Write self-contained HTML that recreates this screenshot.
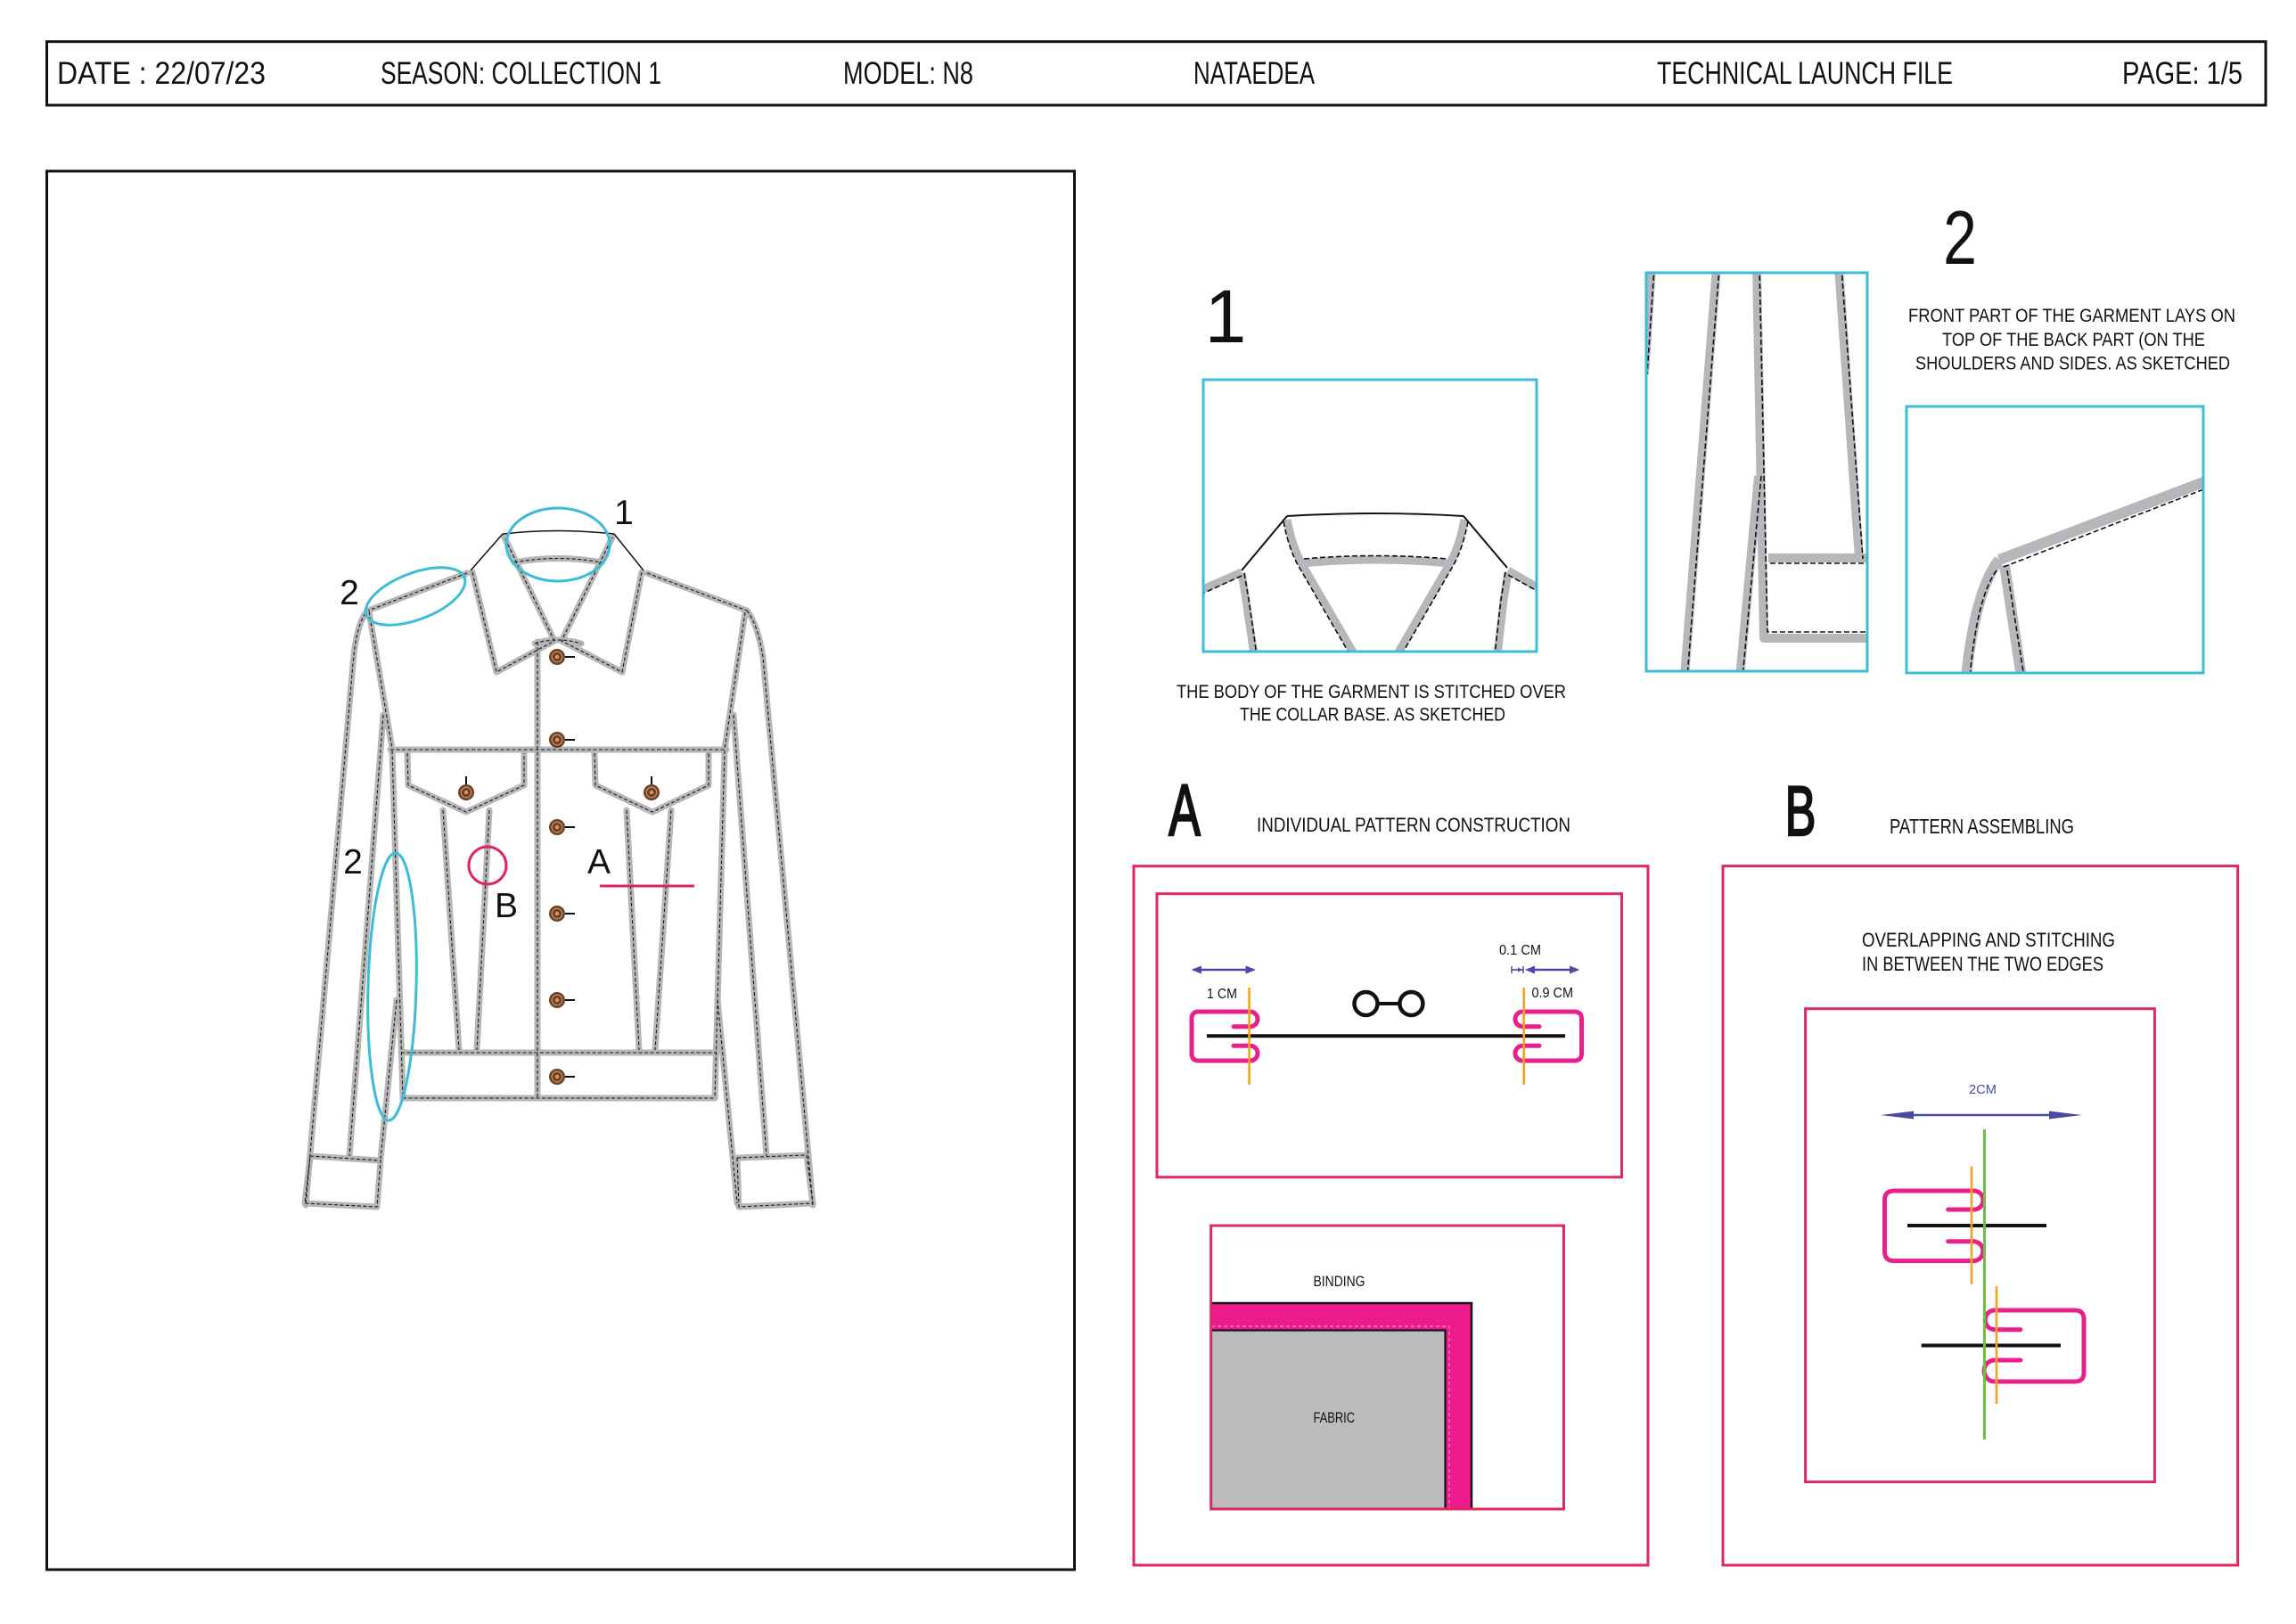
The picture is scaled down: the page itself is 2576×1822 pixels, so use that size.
<!DOCTYPE html>
<html><head><meta charset="utf-8"><style>
html,body{margin:0;padding:0;background:#fff;}
svg{display:block;}
text{font-family:"Liberation Sans",sans-serif;fill:#111;}
.g{fill:none;stroke:#b6b6b6;stroke-width:7;stroke-linecap:round;stroke-linejoin:round;}
.d{fill:none;stroke:#1a1a1a;stroke-width:1.1;stroke-dasharray:4 2.5;}
.gd{fill:none;stroke:#b5b7ba;stroke-width:10;stroke-linejoin:round;}
.dd{fill:none;stroke:#111;stroke-width:1.6;stroke-dasharray:6 3;}
.k{fill:none;stroke:#111;stroke-width:1.6;}
.cy{fill:none;stroke:#3dbcd6;stroke-width:3;}
.pk{fill:none;stroke:#e0285e;stroke-width:3;}
.mg{fill:none;stroke:#e9208c;stroke-width:5;stroke-linejoin:round;stroke-linecap:round;}
.or{stroke:#f5a31f;stroke-width:2.6;}
.bl{stroke:#4a4aa3;stroke-width:2.6;}
.blf{fill:#4a4aa3;}
</style></head><body>
<svg width="2576" height="1822" viewBox="0 0 2576 1822" xmlns="http://www.w3.org/2000/svg">
<defs>
  <g id="jseams">
    <path d="M577,631 Q626,622 675,631"/>
    <path d="M530,642 L557,754 L622,719 L566,603"/>
    <path d="M720,642 L698,754 L630,719 L687,603"/>
    <path d="M600,722 Q626,714 652,722"/>
    <path d="M524,643 L413,685"/>
    <path d="M726,643 L838,685"/>
    <path d="M414,686 L440,840"/>
    <path d="M836,687 L813,840"/>
    <path d="M438,841 L815,841"/>
    <path d="M440,842 L452,1232"/>
    <path d="M813,842 L802,1232"/>
    <path d="M450,1181 L804,1181"/>
    <path d="M452,1232 L802,1232"/>
    <path d="M603,720 L603,1232"/>
    <path d="M410,688 C402,700 398,720 396,745 L343,1352"/>
    <path d="M430,802 L392,1297"/>
    <path d="M445,1122 L427,1300"/>
    <path d="M348,1297 L427,1302 L423,1354 L342,1350 Z"/>
    <path d="M838,685 C846,695 852,712 856,737 L912,1352"/>
    <path d="M823,802 L860,1297"/>
    <path d="M805,1122 L827,1350"/>
    <path d="M827,1299 L905,1296 L912,1350 L829,1354 Z"/>
    <path d="M457,845 L458,881 L523,911 L588,881 L588,845"/>
    <path d="M667,845 L668,881 L732,911 L795,881 L795,845"/>
    <path d="M497,909 L515,1178"/>
    <path d="M549,909 L535,1178"/>
    <path d="M703,909 L717,1178"/>
    <path d="M753,909 L735,1178"/>
  </g>
  <g id="btn">
    <circle cx="0" cy="0" r="9" fill="#6b4226"/>
    <circle cx="0" cy="0" r="5.8" fill="none" stroke="#c98a5c" stroke-width="1.3"/>
    <circle cx="0" cy="0" r="2.2" fill="#d59a6a"/>
  </g>
  <clipPath id="c1"><rect x="1351" y="427" width="372" height="303"/></clipPath>
  <clipPath id="c2"><rect x="1848" y="307" width="246" height="445"/></clipPath>
  <clipPath id="c3"><rect x="2140" y="457" width="331" height="297"/></clipPath>
</defs>

<!-- HEADER -->
<rect x="52.5" y="46.7" width="2489.5" height="71.3" fill="none" stroke="#111" stroke-width="3"/>
<g font-size="35" style="fill:#222">
  <text x="64" y="94" textLength="234" lengthAdjust="spacingAndGlyphs">DATE : 22/07/23</text>
  <text x="427" y="94" textLength="315" lengthAdjust="spacingAndGlyphs">SEASON: COLLECTION 1</text>
  <text x="946" y="94" textLength="146" lengthAdjust="spacingAndGlyphs">MODEL: N8</text>
  <text x="1339" y="94" textLength="136" lengthAdjust="spacingAndGlyphs">NATAEDEA</text>
  <text x="1859" y="94" textLength="332" lengthAdjust="spacingAndGlyphs">TECHNICAL LAUNCH FILE</text>
  <text x="2381" y="94" textLength="135" lengthAdjust="spacingAndGlyphs">PAGE: 1/5</text>
</g>

<!-- LEFT BOX -->
<rect x="52.5" y="192" width="1153" height="1569" fill="none" stroke="#111" stroke-width="3"/>

<!-- JACKET -->
<use href="#jseams" class="g"/>
<use href="#jseams" class="d"/>
<path d="M564,599 Q626,592 689,599 M564,599 L528,640 M689,599 L722,640" fill="none" stroke="#111" stroke-width="1.5"/>
<g>
  <use href="#btn" x="625" y="737"/>
  <use href="#btn" x="625" y="830"/>
  <use href="#btn" x="625" y="928"/>
  <use href="#btn" x="625" y="1025"/>
  <use href="#btn" x="625" y="1122"/>
  <use href="#btn" x="625" y="1208"/>
  <use href="#btn" x="523" y="889"/>
  <use href="#btn" x="731" y="889"/>
</g>
<g stroke="#111" stroke-width="2">
  <line x1="634" y1="737" x2="645" y2="737"/>
  <line x1="634" y1="830" x2="645" y2="830"/>
  <line x1="634" y1="928" x2="645" y2="928"/>
  <line x1="634" y1="1025" x2="645" y2="1025"/>
  <line x1="634" y1="1122" x2="645" y2="1122"/>
  <line x1="634" y1="1208" x2="645" y2="1208"/>
  <line x1="523" y1="880" x2="523" y2="871"/>
  <line x1="731" y1="880" x2="731" y2="871"/>
</g>
<ellipse cx="626" cy="611" rx="58" ry="41" class="cy"/>
<ellipse cx="466" cy="669" rx="59" ry="26" transform="rotate(-21 466 669)" class="cy"/>
<ellipse cx="440" cy="1107" rx="27" ry="150" transform="rotate(1.5 440 1107)" class="cy"/>
<circle cx="547" cy="971" r="21" fill="none" stroke="#e0245e" stroke-width="3"/>
<line x1="673" y1="994" x2="779" y2="994" stroke="#e0245e" stroke-width="3"/>
<g font-size="39" text-anchor="middle">
  <text x="700" y="588">1</text>
  <text x="392" y="678">2</text>
  <text x="396" y="980">2</text>
  <text x="568" y="1029">B</text>
  <text x="672" y="980">A</text>
</g>

<!-- DETAIL 1 -->
<text x="1375" y="384" font-size="84" text-anchor="middle">1</text>
<g clip-path="url(#c1)">
  <g class="gd" style="stroke-width:9">
    <path d="M1393,642 L1345,663"/>
    <path d="M1393,643 L1398,673 L1407,735"/>
    <path d="M1444,583 Q1450,615 1462,635 L1520,735"/>
    <path d="M1461,632 Q1543,624 1626,632"/>
    <path d="M1643,583 Q1637,615 1625,635 L1567,735"/>
    <path d="M1692,640 L1730,662"/>
    <path d="M1692,642 L1687,673 L1680,735"/>
  </g>
  <g class="dd">
    <path d="M1393,646 L1349,666"/>
    <path d="M1396,643 L1401,673 L1410,735"/>
    <path d="M1440,585 Q1446,617 1458,637 L1516,737"/>
    <path d="M1463,627 Q1543,620 1624,627"/>
    <path d="M1647,585 Q1641,617 1629,637 L1571,737"/>
    <path d="M1692,645 L1730,666"/>
    <path d="M1689,642 L1684,673 L1677,735"/>
  </g>
  <path d="M1444,579 Q1543,573 1642,579 M1444,579 L1393,640 M1642,579 L1691,637" class="k" style="stroke-width:2"/>
</g>
<rect x="1350" y="426" width="374" height="305" class="cy"/>
<g font-size="21">
  <text x="1320" y="783" textLength="437" lengthAdjust="spacingAndGlyphs">THE BODY OF THE GARMENT IS STITCHED OVER</text>
  <text x="1391" y="808.5" textLength="298" lengthAdjust="spacingAndGlyphs">THE COLLAR BASE. AS SKETCHED</text>
</g>

<!-- DETAIL 2 -->
<text x="0" y="0" font-size="85" text-anchor="middle" transform="translate(2199,296) scale(0.8,1)">2</text>
<g clip-path="url(#c2)">
  <g class="gd">
    <path d="M1853,300 L1845,420"/>
    <path d="M1926,300 L1890,760"/>
    <path d="M1971,300 L1979,716 L2100,716"/>
    <path d="M1984,626 L2100,626"/>
    <path d="M2063,300 L2086,627"/>
    <path d="M1973,534 L1952,760"/>
  </g>
  <g class="dd">
    <path d="M1856,300 L1848,420"/>
    <path d="M1929,300 L1893,760"/>
    <path d="M1974,300 L1983,709 L2100,709"/>
    <path d="M1986,632 L2100,632"/>
    <path d="M2066,300 L2090,627"/>
    <path d="M1976,534 L1955,760"/>
  </g>
</g>
<rect x="1847" y="306" width="248" height="447" class="cy"/>
<g clip-path="url(#c3)">
  <g class="gd" style="stroke-width:12">
    <path d="M2243,628 L2480,538"/>
    <path d="M2243,628 Q2216,662 2206,760"/>
    <path d="M2249,634 L2268,760"/>
  </g>
  <g class="dd">
    <path d="M2248,636 L2480,546"/>
    <path d="M2240,640 Q2218,670 2210,760"/>
    <path d="M2252,640 L2271,760"/>
  </g>
</g>
<rect x="2139" y="456" width="333" height="299" class="cy"/>
<g font-size="21">
  <text x="2141" y="361" textLength="367" lengthAdjust="spacingAndGlyphs">FRONT PART OF THE GARMENT LAYS ON</text>
  <text x="2179" y="388" textLength="295" lengthAdjust="spacingAndGlyphs">TOP OF THE BACK PART (ON THE</text>
  <text x="2149" y="414.6" textLength="353" lengthAdjust="spacingAndGlyphs">SHOULDERS AND SIDES. AS SKETCHED</text>
</g>

<!-- SECTION A -->
<text x="0" y="0" font-size="82" text-anchor="middle" transform="translate(1329,937) scale(0.65,1)" style="stroke:#111;stroke-width:2.5">A</text>
<text x="1410" y="933" font-size="22" textLength="352" lengthAdjust="spacingAndGlyphs">INDIVIDUAL PATTERN CONSTRUCTION</text>
<rect x="1272" y="971.7" width="577" height="784.3" class="pk"/>
<rect x="1298" y="1002.7" width="521.5" height="318" class="pk"/>
<!-- arrows -->
<line x1="1345" y1="1088" x2="1401" y2="1088" class="bl"/>
<path d="M1336.5,1088 L1348,1083.5 L1348,1092.5 Z M1409,1088 L1397.5,1083.5 L1397.5,1092.5 Z" class="blf"/>
<line x1="1696" y1="1088" x2="1709" y2="1088" class="bl" style="stroke-width:1.6"/>
<line x1="1696" y1="1084" x2="1696" y2="1092" class="bl" style="stroke-width:1.4"/>
<line x1="1709" y1="1084" x2="1709" y2="1092" class="bl" style="stroke-width:1.4"/>
<path d="M1708,1088 L1703,1085.5 L1703,1090.5 Z" class="blf"/>
<line x1="1720" y1="1088" x2="1764" y2="1088" class="bl"/>
<path d="M1711,1088 L1722,1083.5 L1722,1092.5 Z M1772.5,1088 L1761,1083.5 L1761,1092.5 Z" class="blf"/>
<g font-size="16" style="fill:#4a4aa3">
  <text x="1354" y="1120" textLength="34" lengthAdjust="spacingAndGlyphs">1 CM</text>
  <text x="1682" y="1071" textLength="47" lengthAdjust="spacingAndGlyphs">0.1 CM</text>
  <text x="1718.5" y="1119" textLength="46.5" lengthAdjust="spacingAndGlyphs">0.9 CM</text>
</g>
<path d="M1384,1151.7 L1402.7,1151.7 A8.35,8.35 0 0 0 1402.7,1135 L1345,1135 Q1337,1135 1337,1143 L1337,1182 Q1337,1190 1345,1190 L1402.7,1190 A8.35,8.35 0 0 0 1402.7,1173.3 L1384,1173.3" class="mg"/>
<path d="M1727,1151.7 L1708.3,1151.7 A8.35,8.35 0 0 1 1708.3,1135 L1766,1135 Q1774.5,1135 1774.5,1143 L1774.5,1182 Q1774.5,1190 1766,1190 L1708.3,1190 A8.35,8.35 0 0 1 1708.3,1173.3 L1727,1173.3" class="mg"/>
<line x1="1354" y1="1162.3" x2="1756" y2="1162.3" stroke="#111" stroke-width="4"/>
<line x1="1401.6" y1="1108" x2="1401.6" y2="1217" class="or"/>
<line x1="1709.7" y1="1108" x2="1709.7" y2="1217" class="or"/>
<circle cx="1532.5" cy="1126" r="13" fill="none" stroke="#111" stroke-width="4.5"/>
<circle cx="1583.4" cy="1126" r="13" fill="none" stroke="#111" stroke-width="4.5"/>
<line x1="1545" y1="1126" x2="1571" y2="1126" stroke="#111" stroke-width="4"/>
<!-- binding -->
<rect x="1359" y="1462" width="292" height="230" fill="#ec1a8c"/>
<rect x="1359" y="1492.5" width="262.5" height="199.5" fill="#bbbbbb"/>
<path d="M1359,1488 L1626,1488 L1626,1692" fill="none" stroke="#ff8fbf" stroke-width="1.2" stroke-dasharray="4 3"/>
<path d="M1359,1462 L1651,1462 L1651,1692" fill="none" stroke="#111" stroke-width="2.5"/>
<path d="M1359,1492.5 L1621.5,1492.5 L1621.5,1692" fill="none" stroke="#111" stroke-width="2.2"/>
<rect x="1358.7" y="1375" width="395.8" height="318" class="pk"/>
<g font-size="17" style="fill:#333">
  <text x="1473.5" y="1443" textLength="58" lengthAdjust="spacingAndGlyphs">BINDING</text>
  <text x="1473.5" y="1596" textLength="46.5" lengthAdjust="spacingAndGlyphs">FABRIC</text>
</g>

<!-- SECTION B -->
<text x="0" y="0" font-size="79" text-anchor="middle" transform="translate(2020,937) scale(0.66,1)" style="stroke:#111;stroke-width:2.5">B</text>
<text x="2120" y="935" font-size="23" textLength="207" lengthAdjust="spacingAndGlyphs">PATTERN ASSEMBLING</text>
<rect x="1933" y="971.6" width="577.7" height="784.4" class="pk"/>
<g font-size="22">
  <text x="2089" y="1062" textLength="284" lengthAdjust="spacingAndGlyphs">OVERLAPPING AND STITCHING</text>
  <text x="2089" y="1089" textLength="271" lengthAdjust="spacingAndGlyphs">IN BETWEEN THE TWO EDGES</text>
</g>
<rect x="2025.6" y="1131.7" width="391.8" height="530.9" class="pk"/>
<text x="2209" y="1227" font-size="15" textLength="31" lengthAdjust="spacingAndGlyphs" style="fill:#4a4aa3">2CM</text>
<line x1="2135" y1="1251" x2="2312" y2="1251" class="bl"/>
<path d="M2110,1251 L2147,1246.5 L2147,1255.5 Z M2336,1251 L2299,1246.5 L2299,1255.5 Z" class="blf"/>
<path d="M2185.7,1357 L2214.5,1357 A10.5,10.5 0 0 0 2214.5,1336 L2125,1336 Q2114.5,1336 2114.5,1346.5 L2114.5,1404 Q2114.5,1414.6 2125,1414.6 L2214,1414.6 A10.95,10.95 0 0 0 2214,1392.7 L2185.7,1392.7" class="mg"/>
<path d="M2266.8,1491.7 L2238,1491.7 A10.85,10.85 0 0 1 2238,1470 L2328,1470 Q2338,1470 2338,1480 L2338,1540 Q2338,1550 2328,1550 L2238,1550 A12,12 0 0 1 2238,1526 L2266.8,1526" class="mg"/>
<line x1="2140" y1="1375" x2="2296" y2="1375" stroke="#111" stroke-width="4"/>
<line x1="2155.7" y1="1509.5" x2="2312" y2="1509.5" stroke="#111" stroke-width="4"/>
<line x1="2226.5" y1="1267" x2="2226.5" y2="1615" stroke="#6abf45" stroke-width="3"/>
<line x1="2212" y1="1308.5" x2="2212" y2="1441" class="or"/>
<line x1="2240" y1="1443" x2="2240" y2="1575" class="or"/>
</svg>
</body></html>
